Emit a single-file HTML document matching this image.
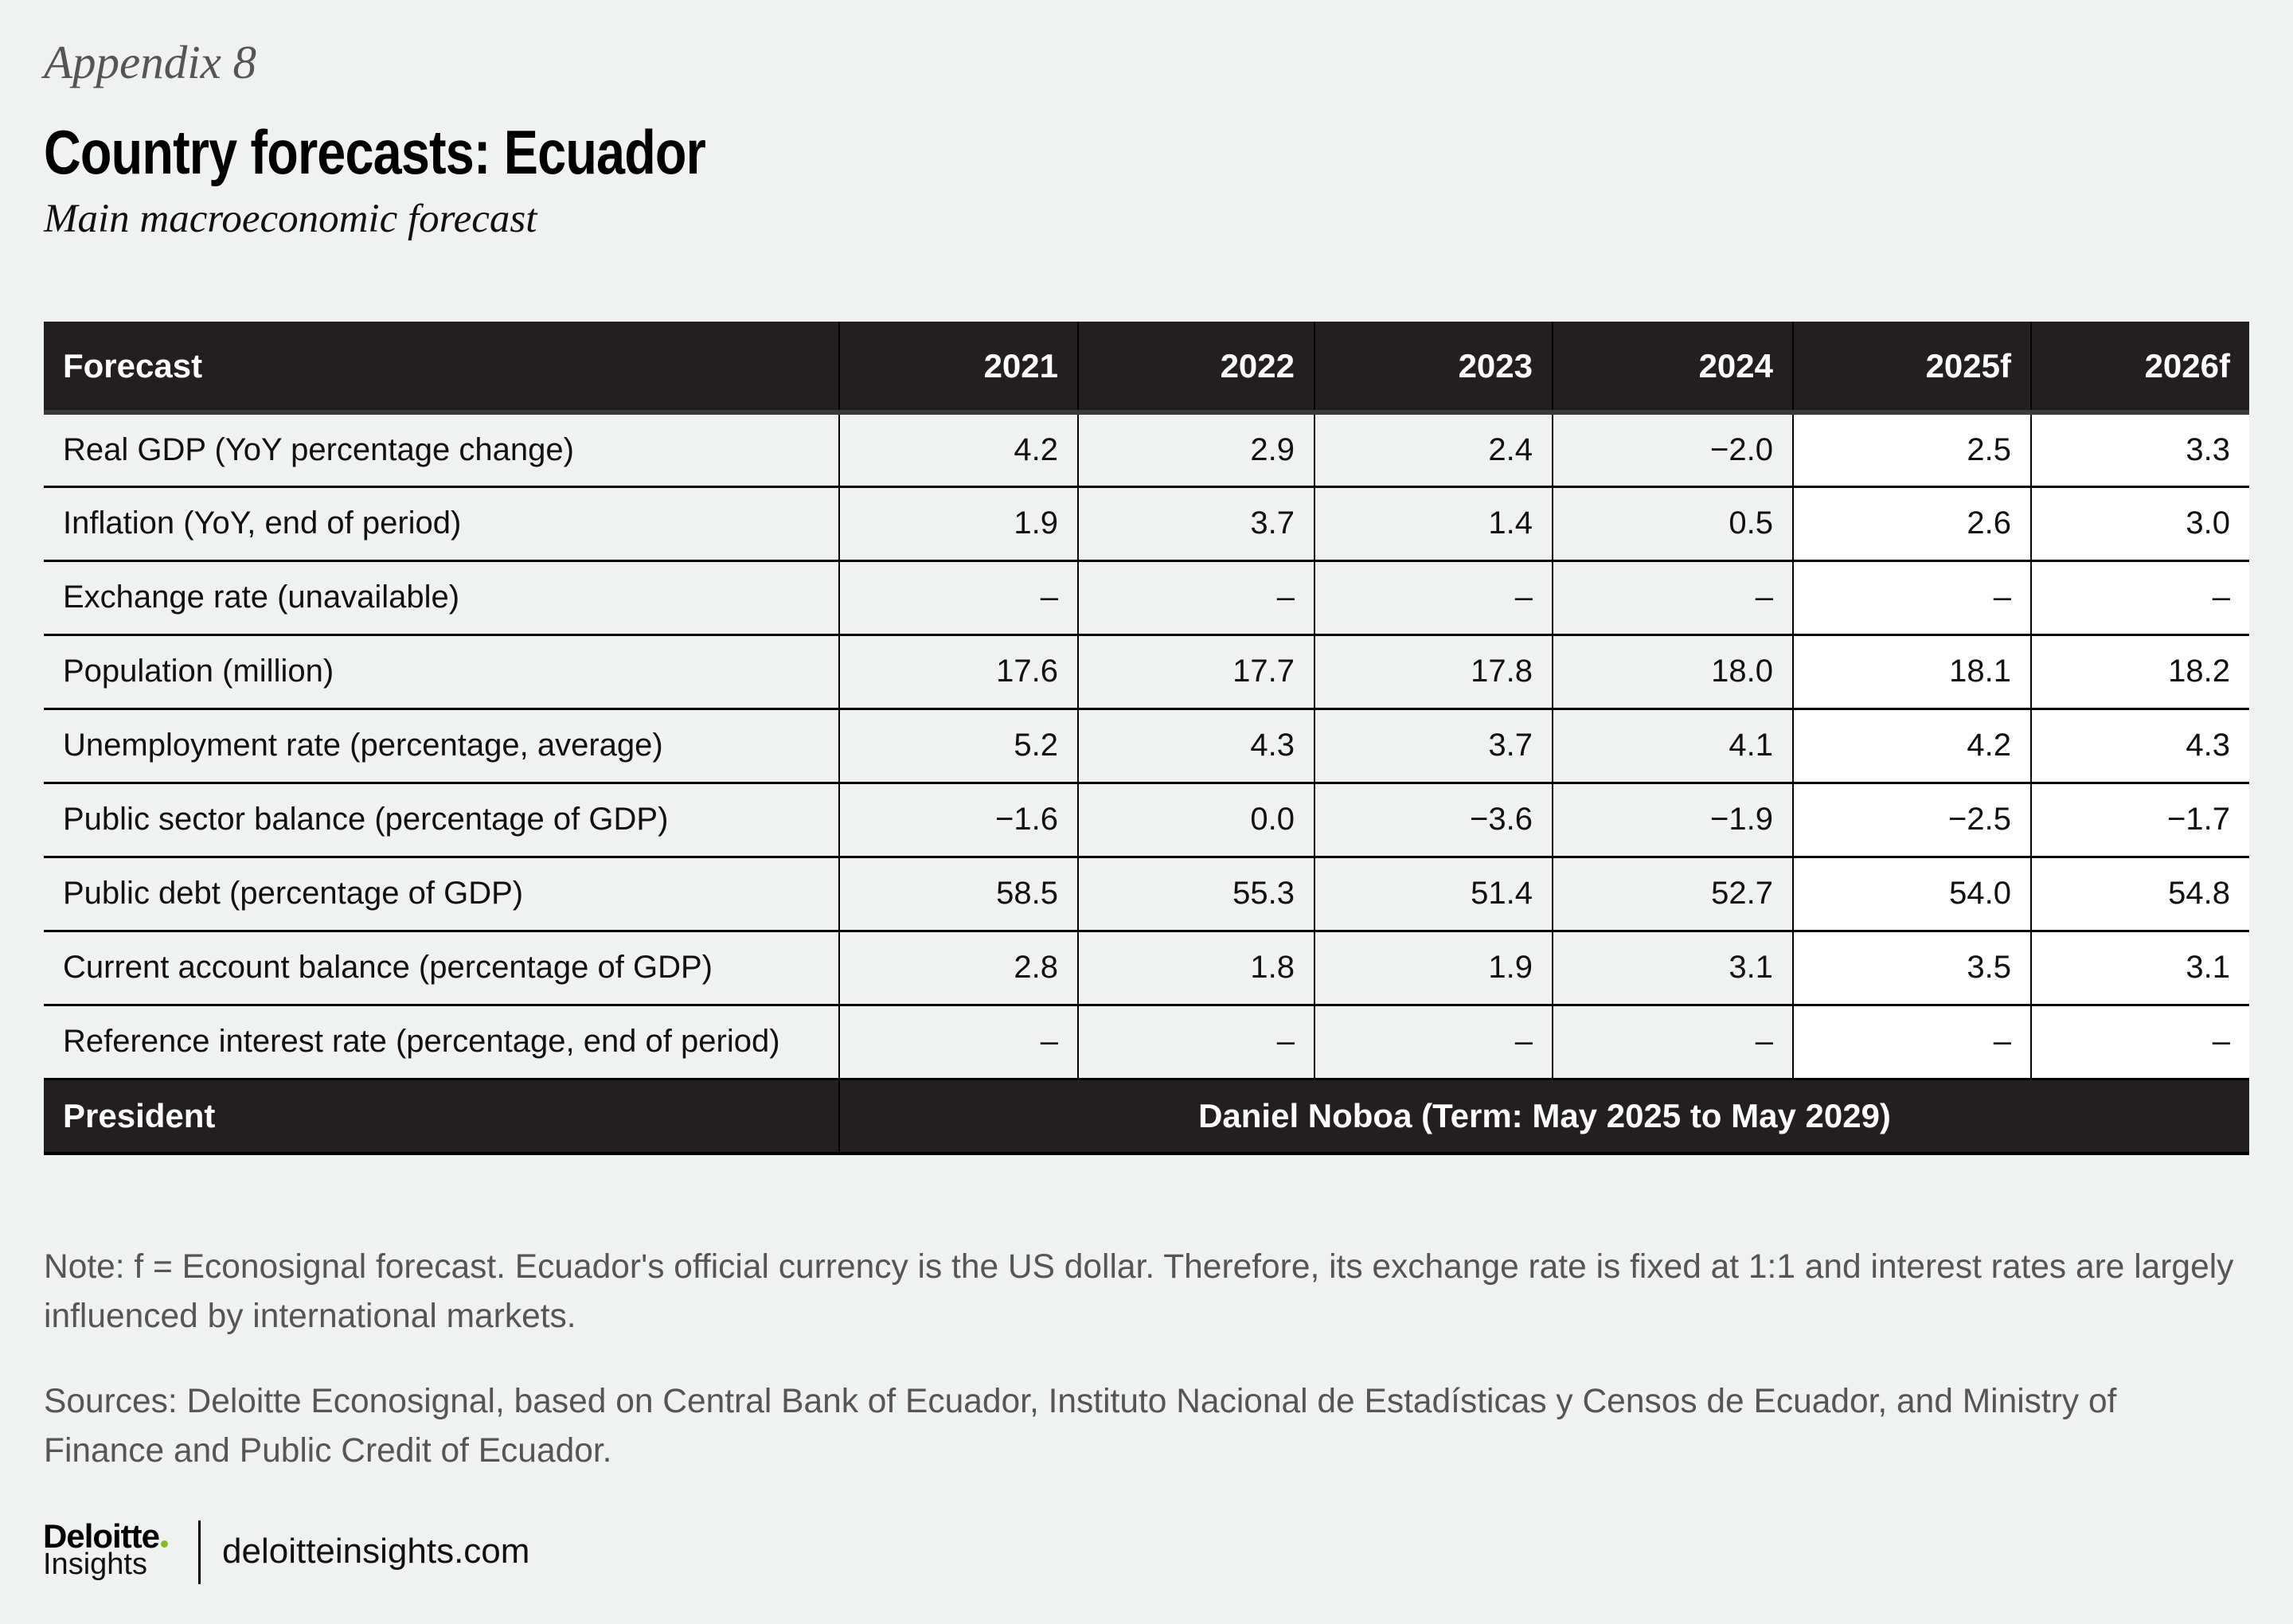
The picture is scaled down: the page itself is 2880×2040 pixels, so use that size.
<!DOCTYPE html>
<html><head><meta charset="utf-8"><style>
html,body{margin:0;padding:0;}
body{width:2880px;height:2040px;background:#f0f2f1;position:relative;overflow:hidden;font-family:"Liberation Sans",sans-serif;}
.abs{position:absolute;white-space:nowrap;}
#app{left:55px;top:44px;font-family:"Liberation Serif",serif;font-style:italic;font-size:59px;color:#555;}
#title{left:55px;top:146px;font-weight:bold;font-size:78px;color:#000;letter-spacing:-1px;transform:scaleX(0.83);transform-origin:left top;}
#sub{left:55px;top:246px;font-family:"Liberation Serif",serif;font-style:italic;font-size:51px;color:#111;}
table{position:absolute;left:55px;top:404px;border-collapse:collapse;table-layout:fixed;width:2770px;}
td{height:93px;padding:0 24px;font-size:40px;color:#111;border-left:2px solid #000;border-top:3px solid #000;box-sizing:border-box;text-align:right;background:#f0f2f1;white-space:nowrap;}
td:first-child{text-align:left;border-left:none;}
td.w{background:#fff;}
tr.h td{height:114px;background:#231f20;color:#fff;font-weight:bold;border-top:none;border-bottom:6px solid #3a3a3a;font-size:42px;}
tr.p td{background:#231f20;color:#fff;font-weight:bold;border-bottom:4px solid #000;height:94px;font-size:42px;}
tr.p td.c{text-align:center;}
.note{left:55px;font-size:42.5px;color:#555;line-height:62px;}
</style></head><body>
<div class="abs" id="app">Appendix 8</div>
<div class="abs" id="title">Country forecasts: Ecuador</div>
<div class="abs" id="sub">Main macroeconomic forecast</div>
<table>
<colgroup><col style="width:999px"><col style="width:300px"><col style="width:297px"><col style="width:299px"><col style="width:302px"><col style="width:299px"><col style="width:274px"></colgroup>
<tr class="h"><td>Forecast</td><td>2021</td><td>2022</td><td>2023</td><td>2024</td><td>2025f</td><td>2026f</td></tr>
<tr><td>Real GDP (YoY percentage change)</td><td>4.2</td><td>2.9</td><td>2.4</td><td>−2.0</td><td class="w">2.5</td><td class="w">3.3</td></tr>
<tr><td>Inflation (YoY, end of period)</td><td>1.9</td><td>3.7</td><td>1.4</td><td>0.5</td><td class="w">2.6</td><td class="w">3.0</td></tr>
<tr><td>Exchange rate (unavailable)</td><td>–</td><td>–</td><td>–</td><td>–</td><td class="w">–</td><td class="w">–</td></tr>
<tr><td>Population (million)</td><td>17.6</td><td>17.7</td><td>17.8</td><td>18.0</td><td class="w">18.1</td><td class="w">18.2</td></tr>
<tr><td>Unemployment rate (percentage, average)</td><td>5.2</td><td>4.3</td><td>3.7</td><td>4.1</td><td class="w">4.2</td><td class="w">4.3</td></tr>
<tr><td>Public sector balance (percentage of GDP)</td><td>−1.6</td><td>0.0</td><td>−3.6</td><td>−1.9</td><td class="w">−2.5</td><td class="w">−1.7</td></tr>
<tr><td>Public debt (percentage of GDP)</td><td>58.5</td><td>55.3</td><td>51.4</td><td>52.7</td><td class="w">54.0</td><td class="w">54.8</td></tr>
<tr><td>Current account balance (percentage of GDP)</td><td>2.8</td><td>1.8</td><td>1.9</td><td>3.1</td><td class="w">3.5</td><td class="w">3.1</td></tr>
<tr><td>Reference interest rate (percentage, end of period)</td><td>–</td><td>–</td><td>–</td><td>–</td><td class="w">–</td><td class="w">–</td></tr>
<tr class="p"><td>President</td><td class="c" colspan="6">Daniel Noboa (Term: May 2025 to May 2029)</td></tr>
</table>
<div class="abs note" style="top:1561px;">Note: f = Econosignal forecast. Ecuador's official currency is the US dollar. Therefore, its exchange rate is fixed at 1:1 and interest rates are largely<br>influenced by international markets.</div>
<div class="abs note" style="top:1730px;">Sources: Deloitte Econosignal, based on Central Bank of Ecuador, Instituto Nacional de Estadísticas y Censos de Ecuador, and Ministry of<br>Finance and Public Credit of Ecuador.</div>
<div class="abs" style="left:54px;top:1906px;font-weight:bold;font-size:42px;color:#000;letter-spacing:-1px;">Deloitte<span style="display:inline-block;width:9px;height:9px;border-radius:50%;background:#86bc25;margin-left:2px;"></span></div>
<div class="abs" style="left:54px;top:1944px;font-size:38px;color:#111;">Insights</div>
<div class="abs" style="left:249px;top:1910px;width:3px;height:80px;background:#000;"></div>
<div class="abs" style="left:279px;top:1924px;font-size:44px;color:#111;">deloitteinsights.com</div>
</body></html>
